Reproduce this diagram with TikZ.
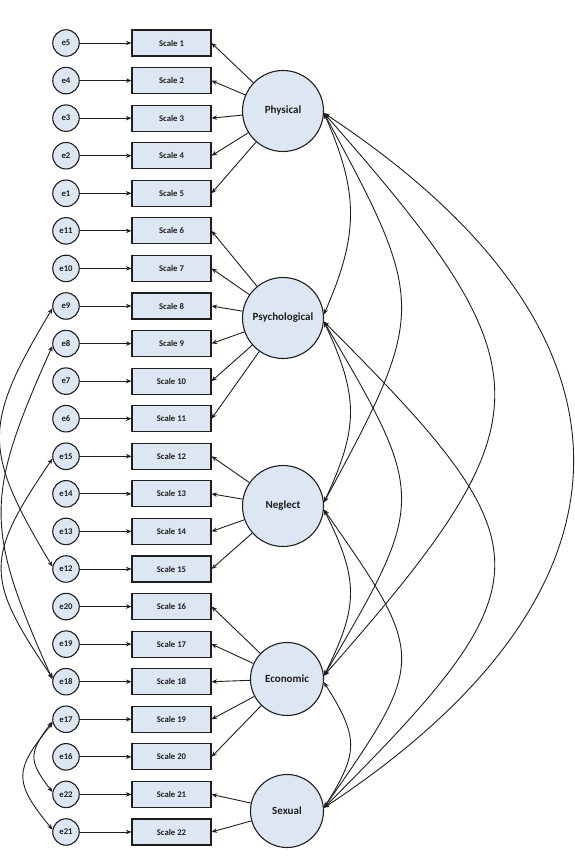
\documentclass[tikz,border=0pt]{standalone}
\usepackage{fontspec}
\setmainfont{Carlito}
\usetikzlibrary{arrows.meta,calc}
\definecolor{boxfill}{RGB}{221,231,243}
\definecolor{ink}{RGB}{30,30,30}
\begin{document}
\begin{tikzpicture}[x=1pt,y=-1pt,
  obs/.style={draw=ink, fill=boxfill, line width=1.1pt, minimum width=79pt, minimum height=26pt, inner sep=0pt, text=ink, font=\fontsize{8.7}{10}\selectfont\bfseries},
  err/.style={circle, draw=ink, fill=boxfill, line width=1.1pt, minimum size=26.5pt, inner sep=0pt, text=ink, font=\fontsize{8.7}{10}\selectfont\bfseries},
  lat/.style={circle, draw=ink, fill=boxfill, line width=1.1pt, minimum size=81pt, inner sep=0pt, text=ink, font=\fontsize{11}{13}\selectfont\bfseries},
  latsm/.style={lat, minimum size=73pt},
  arr/.style={draw=ink, line width=0.9pt, -{Stealth[length=5.5pt,width=4.5pt]}},
  cov/.style={draw=ink, line width=0.9pt, {Stealth[length=5.5pt,width=4.5pt]}-{Stealth[length=5.5pt,width=4.5pt]}}
]
\useasboundingbox (0,0) rectangle (575,857);

\foreach \i/\e in {1/5,2/4,3/3,4/2,5/1,6/11,7/10,8/9,9/8,10/7,11/6,12/15,13/14,14/13,15/12,16/20,17/19,18/18,19/17,20/16,21/22,22/21}{
  \node[obs] (s\i) at (171.5,{43+(\i-1)*37.57}) {Scale \i};
  \node[err] (e\e) at (66,{43+(\i-1)*37.57}) {e\e};
  \draw[arr] (e\e) -- (s\i);
}

\node[lat] (P) at (283,111) {Physical};
\node[lat] (Ps) at (283,318) {Psychological};
\node[lat] (N) at (283,506) {Neglect};
\node[latsm] (E) at (287,679) {Economic};
\node[latsm] (S) at (287,811) {Sexual};

\foreach \i in {1,...,5} \draw[arr] (P) -- (s\i.east);
\foreach \i in {6,...,11} \draw[arr] (Ps) -- (s\i.east);
\foreach \i in {12,...,15} \draw[arr] (N) -- (s\i.east);
\foreach \i in {16,...,20} \draw[arr] (E) -- (s\i.east);
\foreach \i in {21,22} \draw[arr] (S) -- (s\i.east);

% latent covariances (right side)
\draw[cov] (P.-3) .. controls ($(P.-3)+(35,80)$) and ($(Ps.5)+(35,-80)$) .. (Ps.5);
\draw[cov] (Ps.-5) .. controls ($(Ps.-5)+(35,75)$) and ($(N.5)+(35,-75)$) .. (N.5);
\draw[cov] (N.-5) .. controls ($(N.-5)+(35,70)$) and ($(E.5)+(35,-70)$) .. (E.5);
\draw[cov] (E.-5) .. controls ($(E.-5)+(35,55)$) and ($(S.5)+(35,-55)$) .. (S.5);
\draw[cov] (P.-3) .. controls ($(P.-3)+(103,190)$) and ($(N.5)+(103,-190)$) .. (N.5);
\draw[cov] (Ps.-5) .. controls ($(Ps.-5)+(103,175)$) and ($(E.5)+(103,-175)$) .. (E.5);
\draw[cov] (N.-5) .. controls ($(N.-5)+(103,147)$) and ($(S.5)+(103,-147)$) .. (S.5);
\draw[cov] (P.-3) .. controls ($(P.-3)+(227,258)$) and ($(E.5)+(227,-258)$) .. (E.5);
\draw[cov] (Ps.-5) .. controls ($(Ps.-5)+(227,227)$) and ($(S.5)+(227,-227)$) .. (S.5);
\draw[cov] (P.-3) .. controls ($(P.-3)+(332,219)$) and ($(S.5)+(332,-219)$) .. (S.5);

% residual covariances (left side)
\draw[cov] (e9.190) .. controls ($(e9.190)+(-70,117)$) and ($(e12.170)+(-70,-117)$) .. (e12.170);
\draw[cov] (e8.190) .. controls ($(e8.190)+(-68,152)$) and ($(e18.170)+(-68,-152)$) .. (e18.170);
\draw[cov] (e15.190) .. controls ($(e15.190)+(-68,100)$) and ($(e18.165)+(-68,-100)$) .. (e18.165);
\draw[cov] (e17.190) .. controls ($(e17.190)+(-24,31)$) and ($(e22.170)+(-24,-31)$) .. (e22.170);
\draw[cov] (e17.195) .. controls ($(e17.195)+(-39,48)$) and ($(e21.170)+(-39,-48)$) .. (e21.170);
\end{tikzpicture}
\end{document}
